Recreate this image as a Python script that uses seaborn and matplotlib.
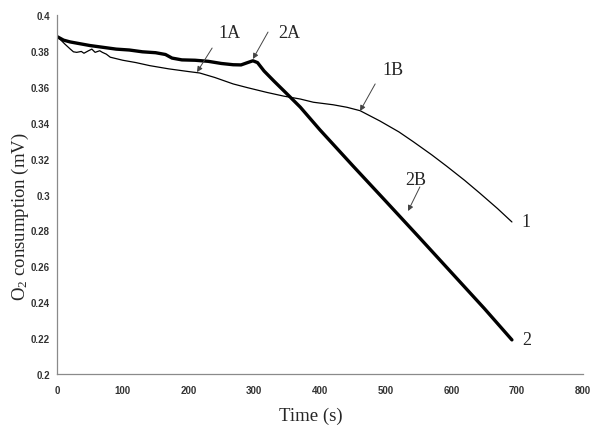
import numpy as np
import pandas as pd
import matplotlib
matplotlib.use("Agg")
import matplotlib.pyplot as plt
from matplotlib.ticker import FuncFormatter
import seaborn as sns

# trace 1 (thin line)
t1 = [0, 6, 12, 20, 25, 30, 37, 41, 48, 53, 58, 65, 69, 75, 81, 100, 120, 141, 170, 200,
      217, 240, 268, 290, 319, 345, 370, 390, 420, 441, 461, 491, 520, 542, 570, 593,
      620, 643, 670, 692]
o2_1 = [0.388, 0.386, 0.3838, 0.3811, 0.3795, 0.3792, 0.3797, 0.3787, 0.3801, 0.381,
        0.3792, 0.3801, 0.3792, 0.3782, 0.3765, 0.3748, 0.3735, 0.3718, 0.370, 0.3685,
        0.3677, 0.3652, 0.3616, 0.3595, 0.3569, 0.3548, 0.3532, 0.3514, 0.350, 0.3486,
        0.3467, 0.3410, 0.3349, 0.3294, 0.3221, 0.3157, 0.3079, 0.3008, 0.2922, 0.2847]

# trace 2 (thick line)
t2 = [0, 10, 20, 35, 50, 70, 90, 110, 130, 150, 165, 175, 190, 210, 230, 250, 268, 280,
      290, 298, 305, 315, 330, 350, 370, 400, 450, 500, 550, 600, 650, 692]
o2_2 = [0.388, 0.386, 0.385, 0.384, 0.383, 0.382, 0.381, 0.3805, 0.3795, 0.379, 0.378,
        0.376, 0.375, 0.3748, 0.3742, 0.373, 0.3723, 0.3722, 0.3735, 0.3745, 0.3735,
        0.3688, 0.3632, 0.356, 0.3487, 0.336, 0.316, 0.2963, 0.2765, 0.2565, 0.2365, 0.219]

x_ticks = [0, 100, 200, 300, 400, 500, 600, 700, 800]
y_ticks = [0.2, 0.22, 0.24, 0.26, 0.28, 0.3, 0.32, 0.34, 0.36, 0.38, 0.4]

# annotation labels: text, text pos, arrow start, arrow tip
notes = [
    ("1A", (262, 0.390), (236, 0.3816), (213, 0.3682)),
    ("2A", (354, 0.390), (321, 0.3905), (298, 0.3755)),
    ("1B", (511, 0.3694), (484, 0.3616), (461, 0.3465)),
    ("2B", (545, 0.3086), (552, 0.3042), (534, 0.2908)),
]

df1 = pd.DataFrame({"time": t1, "o2": o2_1})
df2 = pd.DataFrame({"time": t2, "o2": o2_2})

sns.set_style("white")
serif = "Liberation Serif"
sans = "Liberation Sans"
plt.rcParams["mathtext.fontset"] = "custom"
plt.rcParams["mathtext.rm"] = serif
plt.rcParams["mathtext.it"] = serif + ":italic"

fig = plt.figure(figsize=(5.93, 4.27), dpi=100)
ax = fig.add_axes([0.0961, 0.1218, 0.8869, 0.8407])

sns.lineplot(data=df1, x="time", y="o2", color="black", linewidth=0.9,
             estimator=None, sort=False, ax=ax)
sns.lineplot(data=df2, x="time", y="o2", color="black", linewidth=2.4,
             estimator=None, sort=False, ax=ax)

ax.set_xlim(0, 800)
ax.set_ylim(0.2, 0.4)
ax.set_xticks(x_ticks)
ax.set_yticks(y_ticks)
ax.yaxis.set_major_formatter(FuncFormatter(lambda v, p: "%g" % round(v, 2)))

for s in ["top", "right"]:
    ax.spines[s].set_visible(False)
for s in ["left", "bottom"]:
    ax.spines[s].set_color("#8a8a8a")
    ax.spines[s].set_linewidth(0.9)

ax.tick_params(axis="y", direction="out", length=3, width=0.8, color="#8a8a8a", pad=2)
ax.tick_params(axis="x", direction="inout", length=4, width=0.8, color="#8a8a8a", pad=6)
for lab in ax.get_xticklabels() + ax.get_yticklabels():
    lab.set_fontfamily(sans)
    lab.set_fontweight("bold")
    lab.set_fontsize(7)
    lab.set_color("#333333")

ax.set_xlabel("Time (s)", fontfamily=serif, fontsize=13.5)
ax.set_ylabel(r"O$_2$ consumption (mV)", fontfamily=serif, fontsize=13.5)
ax.xaxis.set_label_coords(0.483, -0.092)
ax.yaxis.set_label_coords(-0.05, 0.4415)

for txt, tpos, start, tip in notes:
    ax.text(tpos[0], tpos[1], txt, ha="center", va="center",
            fontfamily=serif, fontsize=13)
    ax.annotate("", xy=tip, xytext=start,
                arrowprops=dict(arrowstyle="-|>", color="#444444", lw=0.7,
                                mutation_scale=8, shrinkA=0, shrinkB=0))

ax.text(707, o2_1[-1], "1", ha="left", va="center", fontfamily=serif, fontsize=13)
ax.text(707, o2_2[-1], "2", ha="left", va="center", fontfamily=serif, fontsize=13)

fig.savefig("out.png", dpi=100)
